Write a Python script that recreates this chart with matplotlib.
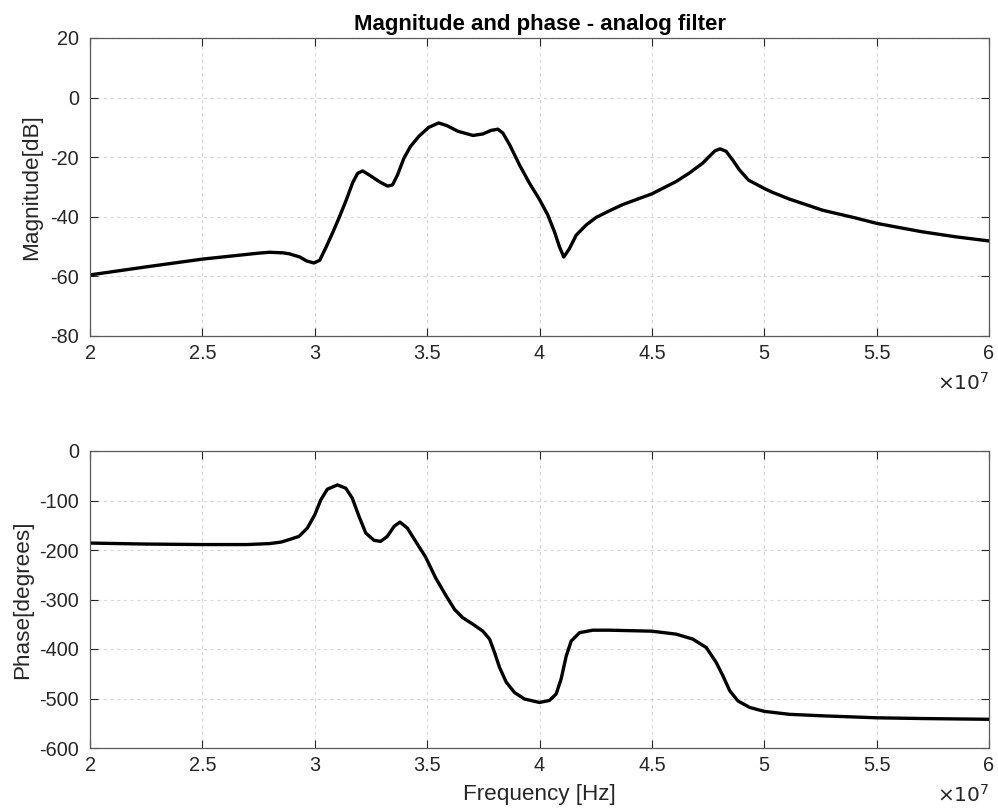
import matplotlib
matplotlib.use("Agg")
import matplotlib.pyplot as plt

plt.rcParams['font.family'] = ['Liberation Sans', 'DejaVu Sans']
plt.rcParams['axes.unicode_minus'] = False

# Frequency in units of 1e7 Hz
mag_freq = [2.0, 2.25, 2.5, 2.65, 2.75, 2.8, 2.859, 2.886, 2.934, 2.963, 2.996, 3.022,
            3.051, 3.081, 3.11, 3.14, 3.169, 3.191, 3.213, 3.243, 3.287, 3.324, 3.346,
            3.368, 3.397, 3.426, 3.463, 3.507, 3.551, 3.588, 3.637, 3.704, 3.748, 3.785,
            3.815, 3.837, 3.867, 3.911, 3.956, 4.0, 4.037, 4.067, 4.089, 4.108, 4.133,
            4.163, 4.207, 4.252, 4.308, 4.37, 4.5, 4.607, 4.667, 4.726, 4.756, 4.78,
            4.803, 4.83, 4.86, 4.889, 4.93, 4.963, 5.0, 5.037, 5.11, 5.26, 5.407, 5.5,
            5.7, 5.85, 6.0]
mag_db = [-59.5, -56.8, -54.2, -53.0, -52.2, -51.9, -52.1, -52.4, -53.5, -54.8, -55.5, -54.6,
          -50.1, -45.1, -40.0, -34.4, -28.5, -25.4, -24.6, -26.0, -28.2, -29.7, -29.3,
          -26.0, -20.3, -16.4, -13.0, -10.0, -8.5, -9.4, -11.3, -12.7, -12.2, -11.0,
          -10.6, -11.9, -15.8, -22.6, -28.8, -34.2, -39.4, -45.1, -50.1, -53.5, -50.7,
          -46.2, -42.8, -40.2, -38.1, -35.9, -32.3, -28.2, -25.3, -22.0, -19.7, -17.9,
          -17.2, -18.0, -21.0, -24.2, -27.7, -29.0, -30.5, -31.8, -34.0, -37.8, -40.4, -42.2,
          -45.0, -46.7, -48.1]

ph_freq = [2.0, 2.25, 2.5, 2.7, 2.8, 2.85, 2.886, 2.93, 2.967, 3.0, 3.027, 3.056, 3.101,
           3.138, 3.167, 3.197, 3.227, 3.264, 3.293, 3.323, 3.353, 3.379, 3.412, 3.449,
           3.493, 3.538, 3.585, 3.622, 3.659, 3.704, 3.748, 3.778, 3.80, 3.822, 3.852,
           3.889, 3.933, 4.0, 4.044, 4.074, 4.096, 4.119, 4.141, 4.178, 4.237, 4.311,
           4.5, 4.608, 4.682, 4.742, 4.786, 4.816, 4.846, 4.883, 4.935, 5.0, 5.113,
           5.26, 5.5, 5.706, 6.0]
ph_deg = [-186, -188, -189, -189, -187, -184, -179, -172.5, -155.7, -128.9, -98.7, -77.2, -68.5,
          -75.2, -95.3, -132.2, -165.8, -180.5, -182.6, -172.5, -152.3, -143.6, -155.7, -182.6,
          -214.1, -256.4, -293, -320, -337, -350, -364, -380, -407, -437, -467,
          -488, -501, -508, -504, -491, -461, -414, -384, -367, -362, -362,
          -364, -370, -380, -397, -427, -454, -484, -505, -518, -526, -532,
          -535, -539, -540.5, -542]

xticks = [2, 2.5, 3, 3.5, 4, 4.5, 5, 5.5, 6]
xticklabels = ['2', '2.5', '3', '3.5', '4', '4.5', '5', '5.5', '6']
mag_yticks = [-80, -60, -40, -20, 0, 20]
ph_yticks = [-600, -500, -400, -300, -200, -100, 0]

W, H = 998, 810
fig = plt.figure(figsize=(W / 100, H / 100), dpi=100)

axc = '#262626'
gridc = '#d9d9d9'


def style(ax, yticks):
    ax.set_xlim(2, 6)
    ax.set_xticks(xticks)
    ax.set_xticklabels(xticklabels)
    ax.set_yticks(yticks)
    ax.set_ylim(yticks[0], yticks[-1])
    ax.tick_params(direction='in', length=6, width=0.8, top=True, right=True,
                   labelsize=14.3, colors=axc, pad=6)
    ax.tick_params(axis='y', pad=8)
    for s in ax.spines.values():
        s.set_color('#5a5a5a')
        s.set_linewidth(0.9)
    ax.grid(True, color=gridc, linestyle=(0, (3, 3)), linewidth=0.8)
    ax.set_axisbelow(True)
    ax.text(1.0, -0.12, r'$\times10^{7}$', transform=ax.transAxes, ha='right', va='top',
            fontsize=14.5, color=axc, family='DejaVu Sans')


ax1 = fig.add_axes([90 / W, 1 - 336 / H, 899 / W, 298 / H])
ax1.plot(mag_freq, mag_db, color='black', linewidth=2.4, solid_joinstyle='round')
style(ax1, mag_yticks)
ax1.set_ylabel('Magnitude[dB]', fontsize=16.2, color=axc, labelpad=6)
ax1.set_title('Magnitude and phase - analog filter', fontsize=16, fontweight='bold', pad=6)

ax2 = fig.add_axes([90 / W, 1 - 748 / H, 899 / W, 297 / H])
ax2.plot(ph_freq, ph_deg, color='black', linewidth=2.4, solid_joinstyle='round')
style(ax2, ph_yticks)
ax2.set_ylabel('Phase[degrees]', fontsize=16.2, color=axc, labelpad=4)
ax2.set_xlabel('Frequency [Hz]', fontsize=16.2, color=axc, labelpad=6)

fig.savefig('out.png', dpi=100)
